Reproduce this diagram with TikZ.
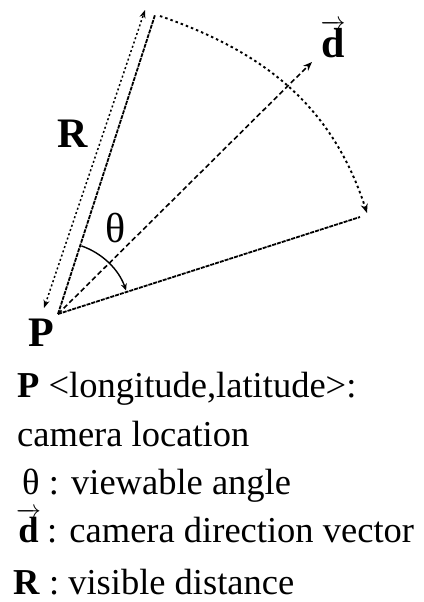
\documentclass[tikz,border=0pt]{standalone}
\usepackage{fontspec}
\setmainfont{Liberation Serif}
\usetikzlibrary{arrows.meta}
\begin{document}
\begin{tikzpicture}[x=1pt,y=-1pt,
  tip/.style={-{Stealth[length=9pt,width=7pt]}},
  edge/.style={line width=1.8pt,dash pattern=on 4pt off 1pt},
  dirline/.style={line width=1.6pt,dash pattern=on 5pt off 3pt},
  arcline/.style={line width=1.9pt,dash pattern=on 2.5pt off 3pt},
  rline/.style={line width=1.5pt,dash pattern=on 2pt off 2.5pt},
  biglabel/.style={font=\fontsize{42}{44}\selectfont},
  legend/.style={anchor=base west,inner sep=0pt,font=\fontsize{36.5}{40}\selectfont}]
\useasboundingbox (0,0) rectangle (423,602);
\coordinate (O) at (58,314);
\coordinate (L) at (155,15);
\coordinate (B) at (360,217);
\coordinate (A1) at (160,16);
\coordinate (A2) at (367,213);
\coordinate (D) at (312,62);
\coordinate (R1) at (44,308);
\coordinate (R2) at (145,10);
\coordinate (T1) at ([shift={(-71:72)}]O);
% edges of sector
\draw[edge] (O) -- (L);
\draw[edge] (O) -- (B);
% direction vector
\draw[dirline,tip] (O) -- (D);
% outer arc
\draw[arcline,tip] (A1) to[out=-19,in=108] (A2);
% R double arrow
\draw[rline,{Stealth[length=8pt,width=6pt]}-{Stealth[length=8pt,width=6pt]}] (R1) -- (R2);
% angle arc
\draw[line width=1.4pt,-{Stealth[length=7pt,width=6pt]}] (T1) arc[start angle=-71,end angle=-19,radius=72];
% labels
\node[biglabel] (Plab) at (41,333) {\textbf{P}};
\node[biglabel] (Rlab) at (73,134) {\textbf{R}};
\node[biglabel] (thlab) at (116,228) {θ};
\node[biglabel] (dlab) at (333,39) {$\overrightarrow{\textbf{d}}$};
% legend
\node[legend] (l1) at (17,397) {\textbf{P} <longitude,latitude>:};
\node[legend] (l2) at (17,446) {camera location};
\node[legend] (l3) at (22,494) {θ : viewable angle};
\node[legend] (l4) at (16,542) {$\overrightarrow{\textbf{d}}$\,: camera direction vector};
\node[legend] (l5) at (13,594) {\textbf{R} : visible distance};
\end{tikzpicture}
\end{document}
